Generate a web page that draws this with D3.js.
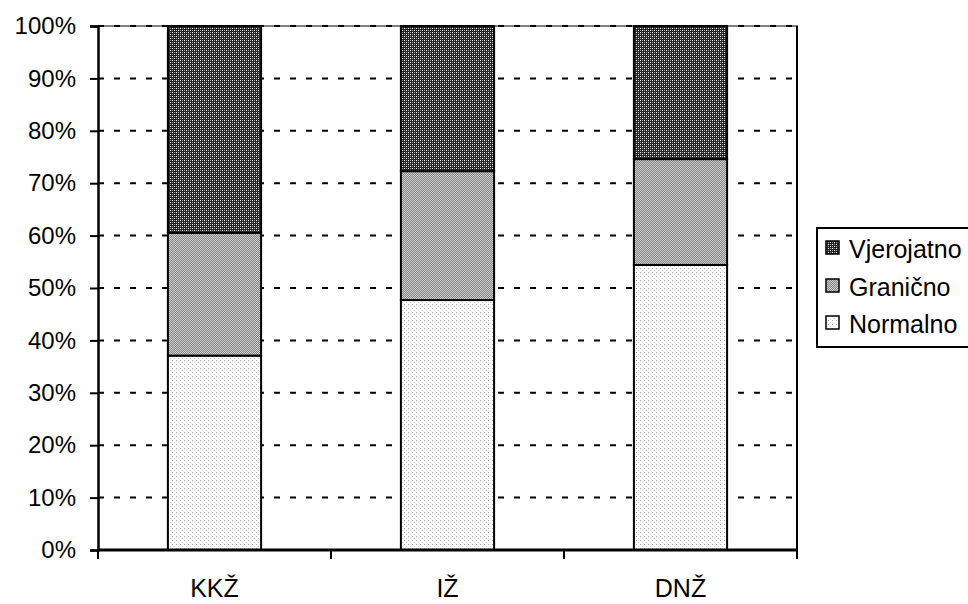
<!DOCTYPE html>
<html><head><meta charset="utf-8">
<script src="https://cdn.jsdelivr.net/npm/d3@7"></script>
<style>
html,body{margin:0;padding:0;background:#fff;overflow:hidden}
text{font-family:"Liberation Sans",Arial,sans-serif;fill:#000}
</style></head>
<body>
<svg id="c" width="968" height="604"></svg>
<script>
const categories = ["KKŽ", "IŽ", "DNŽ"];
const seriesNames = ["Normalno", "Granično", "Vjerojatno"];
const normalno = [37.1, 47.7, 54.4];
const granicno = [23.4, 24.6, 20.2];
const vjerojatno = [39.5, 27.7, 25.4];
const yTicks = [0, 10, 20, 30, 40, 50, 60, 70, 80, 90, 100];

const svg = d3.select("#c");
const L = 98, R = 797, T = 26, B = 550;

// patterns
const defs = svg.append("defs");
const pv = defs.append("pattern").attr("id", "pV").attr("patternUnits", "userSpaceOnUse").attr("width", 4).attr("height", 4);
pv.append("rect").attr("width", 4).attr("height", 4).attr("fill", "#262626");
pv.append("rect").attr("x", 0).attr("y", 0).attr("width", 1).attr("height", 1).attr("fill", "#ffffff");
pv.append("rect").attr("x", 2).attr("y", 2).attr("width", 1).attr("height", 1).attr("fill", "#ffffff");
pv.append("rect").attr("x", 2).attr("y", 0).attr("width", 1).attr("height", 1).attr("fill", "#a0a0a0");
pv.append("rect").attr("x", 0).attr("y", 2).attr("width", 1).attr("height", 1).attr("fill", "#a0a0a0");

const pg = defs.append("pattern").attr("id", "pG").attr("patternUnits", "userSpaceOnUse").attr("width", 2).attr("height", 2);
pg.append("rect").attr("width", 2).attr("height", 2).attr("fill", "#868686");
pg.append("rect").attr("x", 0).attr("y", 0).attr("width", 1).attr("height", 1).attr("fill", "#cccccc");
pg.append("rect").attr("x", 1).attr("y", 1).attr("width", 1).attr("height", 1).attr("fill", "#cccccc");

const pn = defs.append("pattern").attr("id", "pN").attr("patternUnits", "userSpaceOnUse").attr("width", 4).attr("height", 4);
pn.append("rect").attr("width", 4).attr("height", 4).attr("fill", "#ffffff");
pn.append("rect").attr("x", 0).attr("y", 0).attr("width", 1).attr("height", 1).attr("fill", "#a8a8a8");
pn.append("rect").attr("x", 2).attr("y", 2).attr("width", 1).attr("height", 1).attr("fill", "#d0d0d0");

const fills = {"Normalno": "url(#pN)", "Granično": "url(#pG)", "Vjerojatno": "url(#pV)"};

const x = d3.scaleBand().domain(categories).range([L, R]).paddingInner(0.6).paddingOuter(0.3);
const y = d3.scaleLinear().domain([0, 100]).range([B, T]);

// plot border (top & right, gray)
svg.append("path").attr("d", `M${L},${T}H${R}V${B}`).attr("fill", "none").attr("stroke", "#808080").attr("stroke-width", 2);

// gridlines
svg.append("g").selectAll("line").data(yTicks.filter(d => d > 0)).join("line")
  .attr("x1", L).attr("x2", R).attr("y1", d => y(d)).attr("y2", d => y(d))
  .attr("stroke", "#000").attr("stroke-width", 2).attr("stroke-dasharray", "6,10");

// stacked data
const table = categories.map((c, i) => ({cat: c, "Normalno": normalno[i], "Granično": granicno[i], "Vjerojatno": vjerojatno[i]}));
const stacked = d3.stack().keys(seriesNames)(table);

svg.append("g").selectAll("g").data(stacked).join("g")
  .attr("fill", d => fills[d.key])
  .selectAll("rect").data(d => d).join("rect")
  .attr("x", d => x(d.data.cat)).attr("width", x.bandwidth())
  .attr("y", d => y(d[1])).attr("height", d => y(d[0]) - y(d[1]))
  .attr("stroke", "#000").attr("stroke-width", 2);

// right border line
svg.append("line").attr("x1", R).attr("x2", R).attr("y1", T).attr("y2", B + 9).attr("stroke", "#000").attr("stroke-width", 2);

// y axis
const yAxis = d3.axisLeft(y).tickValues(yTicks).tickFormat(d => d + "%").tickSize(8).tickPadding(14);
const ga = svg.append("g").attr("transform", `translate(${L},0)`).call(yAxis);
ga.select(".domain").attr("stroke", "#000").attr("stroke-width", 2.5);
ga.selectAll(".tick line").attr("stroke", "#000").attr("stroke-width", 2);
ga.selectAll(".tick text").attr("font-size", 24).attr("font-family", "Liberation Sans, Arial, sans-serif").attr("fill", "#000");

// x axis
const step = x.step();
const bounds = d3.range(categories.length + 1).map(i => L + i * step);
svg.append("line").attr("x1", L - 1).attr("x2", R + 1).attr("y1", B).attr("y2", B).attr("stroke", "#000").attr("stroke-width", 3);
svg.append("g").selectAll("line").data(bounds).join("line")
  .attr("x1", d => d).attr("x2", d => d).attr("y1", B).attr("y2", B + 9)
  .attr("stroke", "#000").attr("stroke-width", 2);
svg.append("g").selectAll("text").data(categories).join("text")
  .attr("x", d => x(d) + x.bandwidth() / 2).attr("y", 597)
  .attr("text-anchor", "middle").attr("font-size", 25).text(d => d);

// legend
const lg = svg.append("g");
lg.append("rect").attr("x", 817).attr("y", 228).attr("width", 160).attr("height", 119)
  .attr("fill", "#fff").attr("stroke", "#000").attr("stroke-width", 2);
const legendOrder = ["Vjerojatno", "Granično", "Normalno"];
const rowBase = [258, 296, 333];
legendOrder.forEach((k, i) => {
  lg.append("rect").attr("x", 826).attr("y", rowBase[i] - 17).attr("width", 13).attr("height", 13)
    .attr("fill", fills[k]).attr("stroke", "#000").attr("stroke-width", 1.5);
  lg.append("text").attr("x", 849).attr("y", rowBase[i]).attr("font-size", 25).text(k);
});
</script>
</body></html>
